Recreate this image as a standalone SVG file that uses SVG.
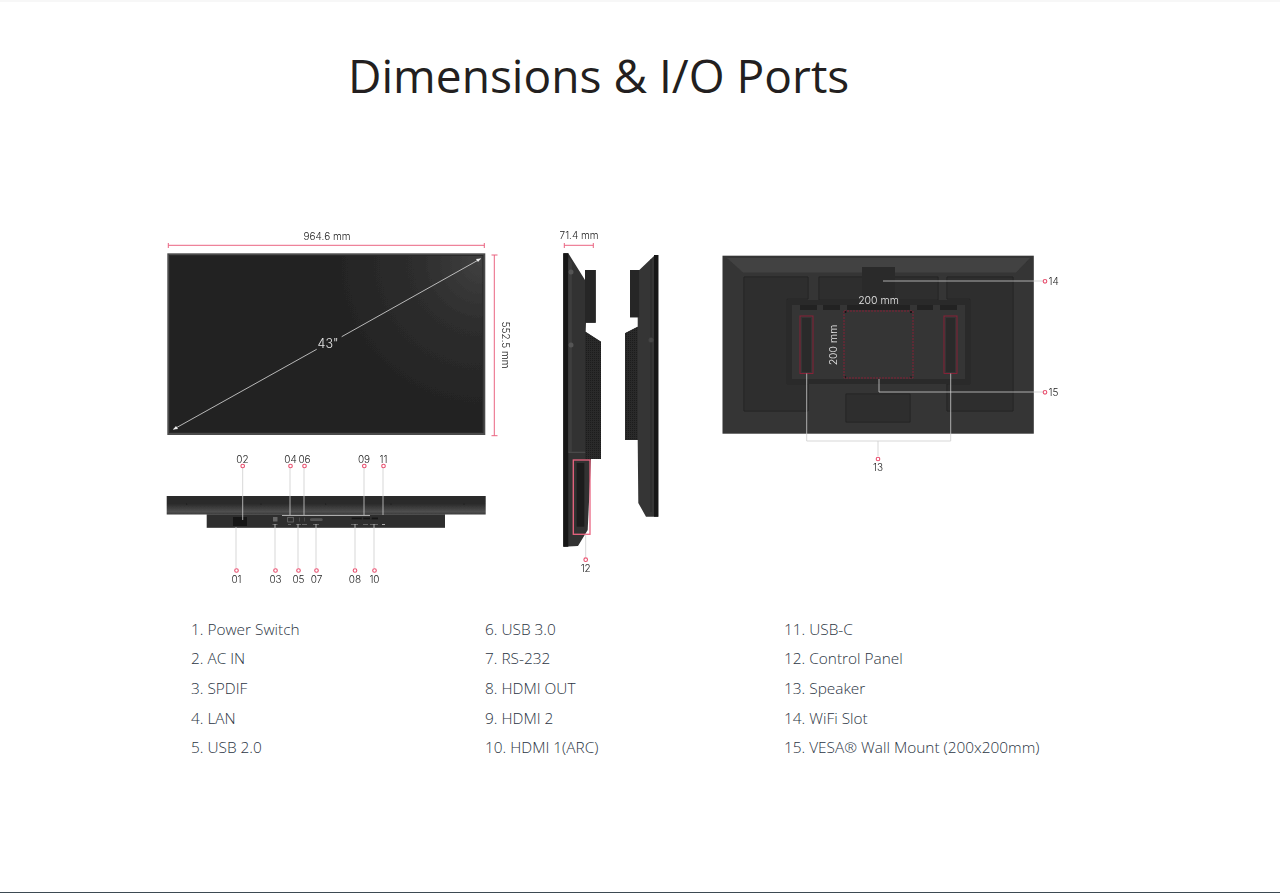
<svg xmlns="http://www.w3.org/2000/svg" width="1280" height="893" viewBox="0 0 1280 893">
<style>
.title{font:46.100px "Open Sans",sans-serif;fill:#231f20}
.li{font:300 15.4px "Open Sans",sans-serif;fill:#2b3543}
.lb{font:300 10px Inter,"Liberation Sans",sans-serif;fill:#222}
.w{font:300 10.500px Inter,"Liberation Sans",sans-serif;fill:#e6e6e6}
.c{fill:none;stroke:#cdcdcd;stroke-width:.8}
.r{fill:none;stroke:#ea6481;stroke-width:1}
.d{fill:#fff;stroke:#e8506f;stroke-width:1.100}
.red{fill:none;stroke:#8f1f38;stroke-width:.9}
.soft{filter:url(#soft)}
.panel{fill:#2f2f2f;stroke:#242424;stroke-width:1}
</style>
<defs>
<filter id="soft" x="0" y="0" width="1280" height="893" filterUnits="userSpaceOnUse"><feGaussianBlur stdDeviation="0.35"/></filter>
<radialGradient id="scr" gradientUnits="userSpaceOnUse" cx="482" cy="262" r="150"><stop offset="0" stop-color="#404040"/><stop offset=".4" stop-color="#2e2e2e"/><stop offset="1" stop-color="#232323"/></radialGradient>
<linearGradient id="bar" x1="0" y1="0" x2="0" y2="1"><stop offset="0" stop-color="#2a2a2a"/><stop offset=".45" stop-color="#2c2c2c"/><stop offset=".85" stop-color="#505050"/><stop offset="1" stop-color="#3a3a3a"/></linearGradient>
<pattern id="grille" width="2" height="2" patternUnits="userSpaceOnUse"><rect width="2" height="2" fill="#2a2a2a"/><rect width="1" height="1" fill="#1f1f1f"/></pattern>
</defs>
<rect width="1280" height="893" fill="#fff"/>
<rect width="1280" height="2" fill="#f7f7f7"/>
<line x1="0" y1="892.5" x2="1280" y2="892.5" stroke="#3d4a52"/>
<text class="title" x="348" y="92.500">Dimensions &amp; I/O Ports</text>

<g id="front" class="soft">
<rect x="167.300" y="253.300" width="318" height="181.700" fill="#4c4c4c"/>
<rect x="169" y="255" width="314.500" height="178" fill="#2b2b2b"/>
<rect x="170" y="256" width="312.300" height="176" fill="url(#scr)"/>
<path d="M173.500 429.300L316.700 349.300M341.700 336.700L480.700 258.700" stroke="#ddd" stroke-width=".8" fill="none"/>
<path d="M173 429.600l5-.6-2-3zM481 258.400l-5 .6 2 3z" fill="#eee"/>
<text class="w" x="328" y="348.300" text-anchor="middle" style="font-size:12.500px">43"</text>
<path class="r" d="M168.300 245.300H484.300M168.300 243v5M484.300 243v5M494.300 255V435.700M491.500 255h6M491.500 435.700h6"/>
<text class="lb" x="327" y="240" text-anchor="middle">964.6 mm</text>
<text class="lb" transform="translate(501.700,345) rotate(90)" text-anchor="middle">552.5 mm</text>
</g>

<g id="bottom" class="soft">
<rect x="166.700" y="496" width="319" height="18.500" fill="url(#bar)"/>
<g fill="#141414"><circle cx="186.700" cy="504" r=".6"/><circle cx="261" cy="504" r=".6"/><circle cx="325.700" cy="504" r=".6"/><circle cx="391" cy="504" r=".6"/><circle cx="464" cy="504" r=".6"/></g>
<rect x="206.700" y="514.300" width="238.300" height="13.500" fill="#2d2d2d"/>
<rect x="233" y="517" width="14" height="9" fill="#191919"/>
<rect x="273" y="517" width="4.500" height="4.500" fill="#666"/>
<rect x="287.700" y="517.300" width="5.600" height="4.700" fill="none" stroke="#777" stroke-width=".7"/>
<path d="M299.500 517.500v4M304.500 517.500v4" stroke="#555" stroke-width=".7"/>
<rect x="310" y="518.300" width="12.700" height="2.700" rx="1.300" fill="#555"/>
<g fill="#141414"><rect x="351.700" y="517.500" width="10" height="1.800"/><rect x="363.300" y="517.500" width="6.700" height="1.800"/><rect x="371.700" y="517.500" width="6.300" height="1.800"/></g>
<g fill="#666"><rect x="272.500" y="524" width="5" height="1"/><rect x="288" y="524" width="3" height="1"/><rect x="296" y="524" width="5" height="1"/><rect x="302" y="524" width="5" height="1"/><rect x="313" y="524" width="6" height="1"/><rect x="351" y="524" width="7" height="1"/><rect x="363" y="524" width="5" height="1"/><rect x="370" y="524" width="8" height="1"/><rect x="382" y="524" width="3" height="1" fill="#aaa"/></g>
</g>

<g id="side-left" class="soft">
<path d="M563.300 253.300H568.300L585 280V270H595.700V322.700H586L585.700 331.700L601 341.700V459H591L587.700 530L578 546L563.300 546.700Z" fill="#333"/>
<path d="M563.300 253.300H568.300V546.700H563.300Z" fill="#151515"/>
<path d="M568.300 257V452H571.700V262Z" fill="#3e3e3e"/>
<rect x="585" y="270" width="10.700" height="52.700" fill="#262626"/>
<path d="M585 331.700L601 341.700V459H585Z" fill="url(#grille)"/>
<rect x="568.300" y="451.700" width="17" height="1.300" fill="#484848"/>
<circle cx="571" cy="272" r="2.500" fill="#555"/><circle cx="571" cy="345" r="2.500" fill="#555"/>
<rect x="576.700" y="463" width="7.600" height="63.700" fill="#1d1d1d"/>
<rect x="573.300" y="460" width="16.700" height="74.300" class="r" style="stroke-width:1.300"/>
<path class="r" d="M564.300 245.300H593.300M564.300 243v5M593.300 243v5"/>
<text class="lb" x="579" y="239" text-anchor="middle">71.4 mm</text>
</g>

<g id="side-right" class="soft">
<path d="M658.300 255V516.700H646L638.300 503L637.700 440H625V333.300L637.700 326.700V317.300H630V270H639.300L654 256Z" fill="#363636"/>
<path d="M654 255H658.300V516.700H654Z" fill="#171717"/>
<path d="M651 259V512" stroke="#262626" stroke-width=".8" fill="none"/>
<rect x="630" y="270" width="9.300" height="47.300" fill="#262626"/>
<path d="M625 333.300L637.700 326.700V440H625Z" fill="url(#grille)"/>
<circle cx="651" cy="340" r="2.500" fill="#444"/>
</g>

<g id="rear" class="soft">
<rect x="722.500" y="255.700" width="311.300" height="178" fill="#343434"/>
<path d="M727 258H1030L1016 272.500H743Z" fill="#424242"/>
<path class="panel" d="M744 277H808V299H787V384H808V411H744Z"/>
<rect class="panel" x="819" y="277" width="119" height="23"/>
<path class="panel" d="M947 277H1013V411H947V384H970V299H947Z"/>
<rect class="panel" x="846" y="394" width="64" height="28"/>
<rect x="862" y="267" width="33" height="33" fill="#2c2c2c"/>
<rect x="787" y="300" width="183" height="84" fill="#292929"/>
<rect x="792" y="305" width="173" height="74" fill="#363636"/>
<g fill="#232323"><rect x="800" y="305" width="17" height="5"/><rect x="823" y="305" width="17" height="5"/><rect x="847" y="305" width="63" height="5"/><rect x="917" y="305" width="16" height="5"/><rect x="940" y="305" width="17" height="5"/></g>
<g fill="#2c2c2c"><rect x="802" y="318" width="9" height="54"/><rect x="946" y="318" width="9" height="54"/></g>
<rect class="red" x="800" y="316" width="13" height="57.500"/>
<rect class="red" x="944" y="316" width="13" height="57.500"/>
<rect class="red" x="844" y="311" width="69" height="67" stroke-dasharray="2 1"/>
<g fill="#111"><circle cx="845.500" cy="312" r="1"/><circle cx="911" cy="312" r="1"/><circle cx="845.500" cy="377" r=".8"/><circle cx="911" cy="377" r=".8"/></g>
<text class="w" x="878.500" y="304" text-anchor="middle">200 mm</text>
<text class="w" transform="translate(836.500,345) rotate(-90)" text-anchor="middle">200 mm</text>
</g>

<g id="connectors" class="soft">
<path class="c" d="M242.700 468V520M290 468V515M304 468V515M364 468V515M383 468V515M282 515.500H370M236 527V568M275 524V568M298 524V568M316 524V568M355 524V568M374 524V568"/>
<path class="c" d="M585.700 534.500V557M883 281H1043M879 379V392H1043M806.700 373.500V441H950.700V373.500M878 441V456"/>
</g>

<g id="port-labels" class="soft">
<circle class="d" cx="242.700" cy="466" r="1.800"/><circle class="d" cx="290.500" cy="466" r="1.800"/><circle class="d" cx="304.500" cy="466" r="1.800"/><circle class="d" cx="364.300" cy="466" r="1.800"/><circle class="d" cx="383.500" cy="466" r="1.800"/>
<circle class="d" cx="236.500" cy="570.500" r="1.800"/><circle class="d" cx="275.500" cy="570.500" r="1.800"/><circle class="d" cx="298.500" cy="570.500" r="1.800"/><circle class="d" cx="316.500" cy="570.500" r="1.800"/><circle class="d" cx="355" cy="570.500" r="1.800"/><circle class="d" cx="374.500" cy="570.500" r="1.800"/>
<circle class="d" cx="585.700" cy="559.700" r="1.800"/><circle class="d" cx="1045" cy="281.300" r="1.800"/><circle class="d" cx="1045" cy="392.300" r="1.800"/><circle class="d" cx="878" cy="459" r="1.800"/>
<g class="lb" text-anchor="middle">
<text x="242.500" y="463">02</text><text x="290.500" y="463">04</text><text x="304.500" y="463">06</text><text x="364" y="463">09</text><text x="383.500" y="463">11</text>
<text x="236.500" y="583">01</text><text x="275.500" y="583">03</text><text x="298.500" y="583">05</text><text x="316.500" y="583">07</text><text x="355" y="583">08</text><text x="374.500" y="583">10</text>
<text x="585.700" y="572">12</text><text x="878" y="470.500">13</text>
</g>
<text class="lb" x="1048.500" y="285">14</text><text class="lb" x="1048.500" y="396">15</text>
</g>

<g id="list">
<text class="li" x="191" y="635">1. Power Switch</text><text class="li" x="191" y="664">2. AC IN</text><text class="li" x="191" y="694">3. SPDIF</text><text class="li" x="191" y="724">4. LAN</text><text class="li" x="191" y="753">5. USB 2.0</text>
<text class="li" x="485" y="635">6. USB 3.0</text><text class="li" x="485" y="664">7. RS-232</text><text class="li" x="485" y="694">8. HDMI OUT</text><text class="li" x="485" y="724">9. HDMI 2</text><text class="li" x="485" y="753">10. HDMI 1(ARC)</text>
<text class="li" x="784" y="635">11. USB-C</text><text class="li" x="784" y="664">12. Control Panel</text><text class="li" x="784" y="694">13. Speaker</text><text class="li" x="784" y="724">14. WiFi Slot</text><text class="li" x="784" y="753">15. VESA® Wall Mount (200x200mm)</text>
</g>
</svg>
